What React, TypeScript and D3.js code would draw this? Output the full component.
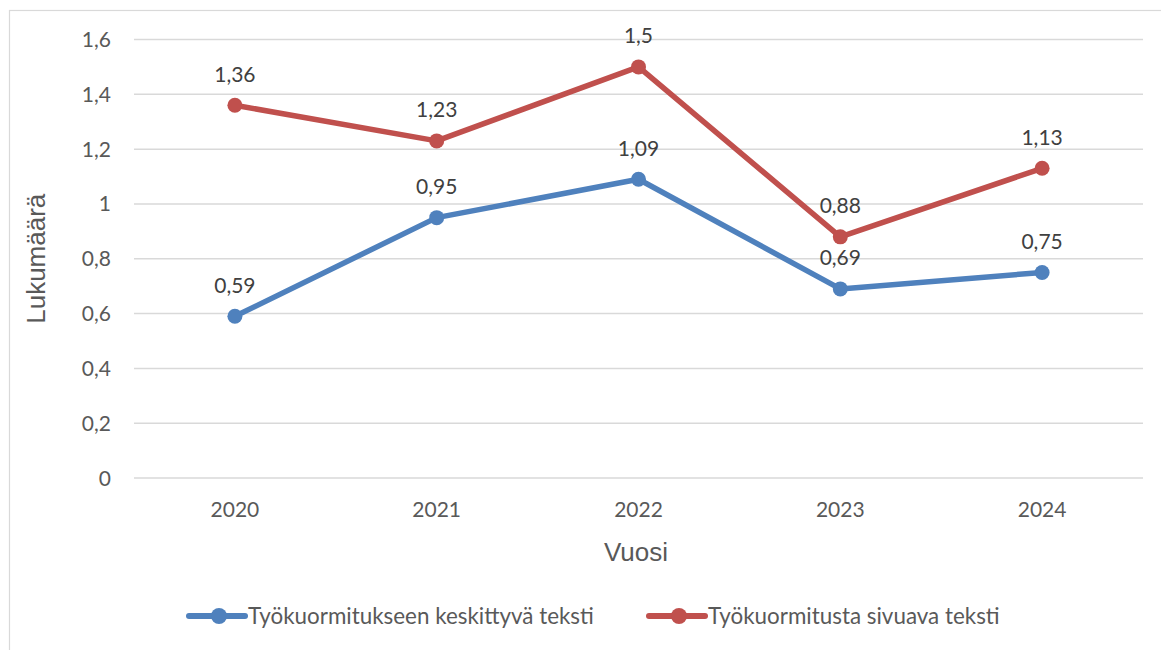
import React from "react";
import * as d3 from "d3";

const years = ["2020", "2021", "2022", "2023", "2024"];
const focusedValues = [0.59, 0.95, 1.09, 0.69, 0.75];
const sideValues = [1.36, 1.23, 1.5, 0.88, 1.13];
const yTicks = [0, 0.2, 0.4, 0.6, 0.8, 1, 1.2, 1.4, 1.6];
const seriesNames = ["Työkuormitukseen keskittyvä teksti", "Työkuormitusta sivuava teksti"];
const seriesColors = ["#4f81bd", "#c0504d"];

const W = 1161, H = 650;
const plot = { left: 134, right: 1143, top: 39.5, bottom: 478 };
const font = "Lato, 'Open Sans', sans-serif";
const titleFont = "'Liberation Sans', Arial, sans-serif";
const fmt = (v: number) => String(v).replace(".", ",");

export default function App() {
  const x = d3.scaleBand<string>().domain(years).range([plot.left, plot.right]);
  const y = d3.scaleLinear().domain([0, 1.6]).range([plot.bottom, plot.top]);
  const cx = (i: number) => (x(years[i]) as number) + x.bandwidth() / 2;
  const line = d3
    .line<number>()
    .x((_, i) => cx(i))
    .y((d) => y(d));
  const series = [focusedValues, sideValues];

  return (
    <svg width={W} height={H} style={{ position: "absolute", left: 0, top: 0 }} fontFamily={font}>
      <rect x={0} y={0} width={W} height={H} fill="#fff" />
      <rect x={9.5} y={10.5} width={W + 10} height={H + 10} fill="none" stroke="#d9d9d9" strokeWidth={1.2} />
      {yTicks.map((t) => (
        <g key={t}>
          <line x1={plot.left} x2={plot.right} y1={y(t)} y2={y(t)} stroke="#d9d9d9" strokeWidth={1.5} />
          <text x={111} y={y(t)} dy="0.36em" textAnchor="end" fontSize={21} fill="#595959">
            {fmt(t)}
          </text>
        </g>
      ))}
      {years.map((yr, i) => (
        <text key={yr} x={cx(i)} y={509} dy="0.36em" textAnchor="middle" fontSize={21} fill="#595959">
          {yr}
        </text>
      ))}
      <text x={636} y={561} textAnchor="middle" fontSize={26} fill="#595959" fontFamily={titleFont}>
        Vuosi
      </text>
      <text
        transform={`translate(45,${(plot.top + plot.bottom) / 2}) rotate(-90)`}
        textAnchor="middle"
        fontSize={26}
        fill="#595959"
        fontFamily={titleFont}
      >
        Lukumäärä
      </text>
      {series.map((vals, s) => (
        <g key={s}>
          <path d={line(vals) as string} fill="none" stroke={seriesColors[s]} strokeWidth={5.5} strokeLinejoin="round" strokeLinecap="round" />
          {vals.map((v, i) => (
            <circle key={i} cx={cx(i)} cy={y(v)} r={7.5} fill={seriesColors[s]} />
          ))}
          {vals.map((v, i) => (
            <text key={"l" + i} x={cx(i)} y={y(v) - 31} dy="0.36em" textAnchor="middle" fontSize={21} fill="#404040">
              {fmt(v)}
            </text>
          ))}
        </g>
      ))}
      {[
        { x0: 189, tx: 248 },
        { x0: 649, tx: 708 },
      ].map((l, s) => (
        <g key={s}>
          <line x1={l.x0} x2={l.x0 + 56} y1={616} y2={616} stroke={seriesColors[s]} strokeWidth={6} strokeLinecap="round" />
          <circle cx={l.x0 + 30} cy={616} r={8} fill={seriesColors[s]} />
          <text x={l.tx} y={616} dy="0.36em" fontSize={22.4} fill="#595959">
            {seriesNames[s]}
          </text>
        </g>
      ))}
    </svg>
  );
}
